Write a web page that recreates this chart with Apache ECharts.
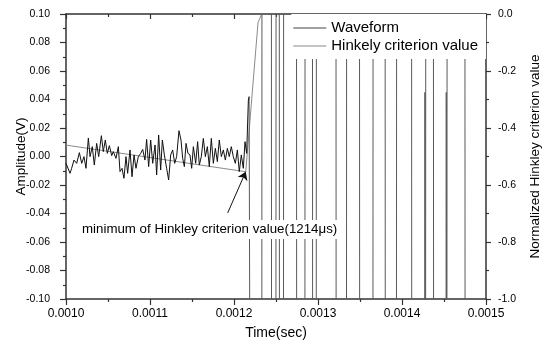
<!DOCTYPE html>
<html>
<head>
<meta charset="utf-8">
<script src="https://cdn.jsdelivr.net/npm/echarts@6/dist/echarts.min.js"></script>
<style>
  html, body { margin: 0; padding: 0; background: #fff; }
  #chart { width: 546px; height: 345px; }
</style>
</head>
<body>
<div id="chart"></div>
<script>
// Pre-arrival noise of the recorded waveform (time in microseconds, amplitude in V)
const noiseTimeUs = [
  1000, 1004.8, 1006.7, 1009.5, 1012.7, 1015.9, 1018.7, 1021.4, 1023.8, 1026.6,
  1028.6, 1031.3, 1033.7, 1036.5, 1038.9, 1042.1, 1044.4, 1046.8, 1049.2, 1051.6,
  1054.4, 1056.3, 1059.5, 1062.3, 1064.3, 1066.7, 1069.0, 1071.4, 1073.4, 1076.2,
  1078.6, 1081.0, 1083.3, 1086.1, 1088.9, 1091.3, 1094.0, 1096.0, 1098.4, 1100.8,
  1103.2, 1106.0, 1107.9, 1110.3, 1112.7, 1114.7, 1117.1, 1119.8, 1122.2, 1124.6,
  1127.0, 1129.4, 1131.7, 1134.5, 1136.9, 1138.9, 1140.9, 1142.9, 1145.2, 1147.6,
  1149.6, 1151.6, 1154.4, 1156.7, 1158.7, 1161.1, 1163.5, 1165.9, 1168.3, 1170.6,
  1173.0, 1175.4, 1177.8, 1180.2, 1182.5, 1184.9, 1187.3, 1189.7, 1192.1, 1194.4,
  1196.8, 1199.2, 1201.6, 1204.0, 1206.3, 1208.7, 1211.1, 1213.1, 1215.1, 1217.1,
  1218.0
];
const noiseAmp = [
  -0.0048, -0.0118, -0.0083, -0.0025, -0.0048, 0.0027, -0.0048, -0.0001, -0.0083, 0.0130,
  -0.0001, 0.0069, -0.0060, 0.0092, -0.0001, 0.0146, 0.0034, 0.0116, 0.0022, 0.0076,
  0.0006, 0.0034, -0.0013, 0.0069, -0.0106, -0.0083, -0.0153, -0.0001, -0.0118, 0.0046,
  -0.0142, 0.0011, -0.0083, -0.0001, 0.0022, 0.0050, -0.0025, 0.0120, -0.0071, 0.0116,
  -0.0048, 0.0081, -0.0130, 0.0151, -0.0095, 0.0116, 0.0011, -0.0083, -0.0165, 0.0011,
  0.0046, -0.0048, -0.0001, 0.0181, 0.0116, -0.0013, -0.0071, 0.0092, 0.0022, 0.0011,
  -0.0083, 0.0069, -0.0048, 0.0104, -0.0060, -0.0001, 0.0127, -0.0001, 0.0069, -0.0071,
  0.0127, -0.0048, 0.0057, -0.0036, 0.0116, -0.0001, 0.0046, -0.0025, 0.0057, -0.0001,
  0.0069, -0.0001, -0.0048, 0.0046, -0.0106, 0.0011, -0.0083, 0.0104, 0.0022, 0.0396,
  0.042
];

// Ringing after the arrival: swings far beyond the ±0.1 V display window
const ringTimeUs = [
  1221.0,
  1232.8, 1233.6, 1244.2, 1245.0, 1249.6, 1250.4, 1253.6, 1254.4, 1258.6, 1259.4,
  1274.1, 1274.9, 1284.1, 1284.9, 1293.1, 1293.9, 1297.6, 1298.4,
  1321.1, 1321.9, 1333.6, 1334.4, 1349.1, 1349.9, 1365.1, 1365.9,
  1379.6, 1380.4, 1393.1, 1393.9, 1411.1, 1411.9,
  1426.8, 1427.3, 1427.8, 1428.0, 1428.6,
  1437.1, 1437.9,
  1452.2, 1452.7, 1453.2, 1453.4, 1454.0,
  1474.6, 1475.4, 1500
];
const ringAmp = [
  -0.6,
  -0.6, 0.6, 0.6, -0.6, -0.6, 0.6, 0.6, -0.6, -0.6, 0.6,
  0.6, -0.6, -0.6, 0.6, 0.6, -0.6, -0.6, 0.6,
  0.6, -0.6, -0.6, 0.6, 0.6, -0.6, -0.6, 0.6,
  0.6, -0.6, -0.6, 0.6, 0.6, -0.6,
  -0.6, 0.045, -0.6, -0.6, 0.6,
  0.6, -0.6,
  -0.6, 0.045, -0.6, -0.6, 0.6,
  0.6, -0.6, -0.6
];

// Normalized Hinkley criterion (right axis)
const hinkleyTimeUs = [1000, 1214, 1228.6, 1233, 1236];
const hinkleyVal = [-0.46, -0.5535, -0.03, 0.0, 0.2];

// Start of the annotation arrow (time in µs, right-axis value)
const arrowFrom = [1192.5, -0.698];

const xTicks = { min: 1000, max: 1500, interval: 100 };
const leftTicks = { min: -0.10, max: 0.10, interval: 0.02 };
const rightTicks = { min: -1.0, max: 0.0, interval: 0.2 };

const FONT = "'Liberation Sans', Arial, Helvetica, sans-serif";
const AXIS_COLOR = '#333';
const WAVE_COLOR = '#111';
const RING_COLOR = '#5a5a5a';
const HINKLEY_COLOR = '#8a8a8a';

const noiseData = noiseTimeUs.map((t, i) => [t, noiseAmp[i]]);
// the ringing trace continues from the last noise sample
const ringData = [noiseData[noiseData.length - 1]]
  .concat(ringTimeUs.map((t, i) => [t, ringAmp[i]]));
const hinkleyData = hinkleyTimeUs.map((t, i) => [t, hinkleyVal[i]]);

const chart = echarts.init(document.getElementById('chart'), null, { renderer: 'canvas' });

const axisLine = { show: true, onZero: false, lineStyle: { color: AXIS_COLOR, width: 1.5 } };

const waveSeries = (data, color, z) => ({
  name: 'Waveform',
  type: 'line',
  xAxisIndex: 0,
  yAxisIndex: 0,
  data: data,
  symbol: 'none',
  showSymbol: false,
  clip: true,
  z: z,
  lineStyle: { color: color, width: 1 },
  itemStyle: { color: color }
});

chart.setOption({
  animation: false,
  backgroundColor: '#fff',
  grid: { left: 66, right: 60, top: 14, bottom: 46, containLabel: false, outerBoundsMode: 'none' },
  legend: {
    orient: 'vertical',
    right: 60,
    top: 14,
    icon: 'rect',
    itemWidth: 33,
    itemHeight: 1.2,
    itemGap: 2,
    padding: [6, 8, 5, 2],
    backgroundColor: '#fff',
    selectedMode: false,
    textStyle: { fontFamily: FONT, fontSize: 15, color: '#000', lineHeight: 16 },
    data: [
      { name: 'Waveform', itemStyle: { color: '#444' } },
      { name: 'Hinkely criterion value', itemStyle: { color: HINKLEY_COLOR } }
    ]
  },
  xAxis: [
    {
      type: 'value',
      position: 'bottom',
      min: xTicks.min, max: xTicks.max, interval: xTicks.interval,
      axisLine: axisLine,
      axisTick: { show: true, length: 6, lineStyle: { color: AXIS_COLOR, width: 1.2 } },
      minorTick: { show: true, splitNumber: 2, length: 3, lineStyle: { color: AXIS_COLOR, width: 1.2 } },
      splitLine: { show: false },
      axisLabel: {
        fontFamily: FONT, fontSize: 12, color: '#000', margin: 9,
        formatter: v => (v * 1e-6).toFixed(4)
      },
      name: 'Time(sec)',
      nameLocation: 'middle',
      nameGap: 27,
      nameMoveOverlap: false,
      nameTextStyle: { fontFamily: FONT, fontSize: 14, color: '#000' }
    },
    {
      type: 'value',
      position: 'top',
      min: xTicks.min, max: xTicks.max, interval: xTicks.interval,
      axisLine: axisLine,
      axisTick: { show: true, inside: true, length: 5, lineStyle: { color: AXIS_COLOR, width: 1.2 } },
      minorTick: { show: true, splitNumber: 2, length: 3, lineStyle: { color: AXIS_COLOR, width: 1.2 } },
      splitLine: { show: false },
      axisLabel: { show: false }
    }
  ],
  yAxis: [
    {
      type: 'value',
      position: 'left',
      min: leftTicks.min, max: leftTicks.max, interval: leftTicks.interval,
      axisLine: axisLine,
      axisTick: { show: true, length: 6, lineStyle: { color: AXIS_COLOR, width: 1.2 } },
      minorTick: { show: true, splitNumber: 2, length: 3, lineStyle: { color: AXIS_COLOR, width: 1.2 } },
      splitLine: { show: false },
      axisLabel: {
        fontFamily: FONT, fontSize: 10.5, color: '#000', margin: 16,
        formatter: v => v.toFixed(2)
      },
      name: 'Amplitude(V)',
      nameLocation: 'middle',
      nameRotate: 90,
      nameGap: 38,
      nameMoveOverlap: false,
      nameTextStyle: { fontFamily: FONT, fontSize: 13.5, color: '#000' }
    },
    {
      type: 'value',
      position: 'right',
      min: rightTicks.min, max: rightTicks.max, interval: rightTicks.interval,
      axisLine: axisLine,
      axisTick: { show: true, length: 5, lineStyle: { color: AXIS_COLOR, width: 1.2 } },
      minorTick: { show: true, splitNumber: 2, length: 3, lineStyle: { color: AXIS_COLOR, width: 1.2 } },
      splitLine: { show: false },
      axisLabel: {
        fontFamily: FONT, fontSize: 10.5, color: '#000', margin: 12,
        formatter: v => v.toFixed(1)
      },
      name: 'Normalized Hinkley criterion value',
      nameLocation: 'middle',
      nameRotate: 90,
      nameGap: 42,
      nameMoveOverlap: false,
      nameTextStyle: { fontFamily: FONT, fontSize: 13.5, color: '#000' }
    }
  ],
  series: [
    {
      name: 'Hinkely criterion value',
      type: 'line',
      xAxisIndex: 0,
      yAxisIndex: 1,
      data: hinkleyData,
      symbol: 'none',
      showSymbol: false,
      clip: true,
      z: 2,
      lineStyle: { color: HINKLEY_COLOR, width: 1 },
      itemStyle: { color: HINKLEY_COLOR },
      markLine: {
        silent: true,
        symbol: ['none', 'arrow'],
        symbolSize: 8,
        lineStyle: { color: '#111', width: 1, type: 'solid' },
        itemStyle: { color: '#111' },
        label: { show: false },
        data: [[
          { coord: arrowFrom },
          { coord: [hinkleyTimeUs[1], hinkleyVal[1]] }
        ]]
      }
    },
    waveSeries(ringData, RING_COLOR, 3),
    waveSeries(noiseData, WAVE_COLOR, 4)
  ],
  graphic: [
    {
      type: 'text',
      left: 80,
      top: 220,
      z: 100,
      style: {
        text: 'minimum of Hinkley criterion value(1214\u03bcs)',
        fontFamily: FONT,
        fontSize: 13.3,
        fill: '#000',
        backgroundColor: '#fff',
        padding: [3, 2, 3, 2]
      }
    }
  ]
});
</script>
</body>
</html>
